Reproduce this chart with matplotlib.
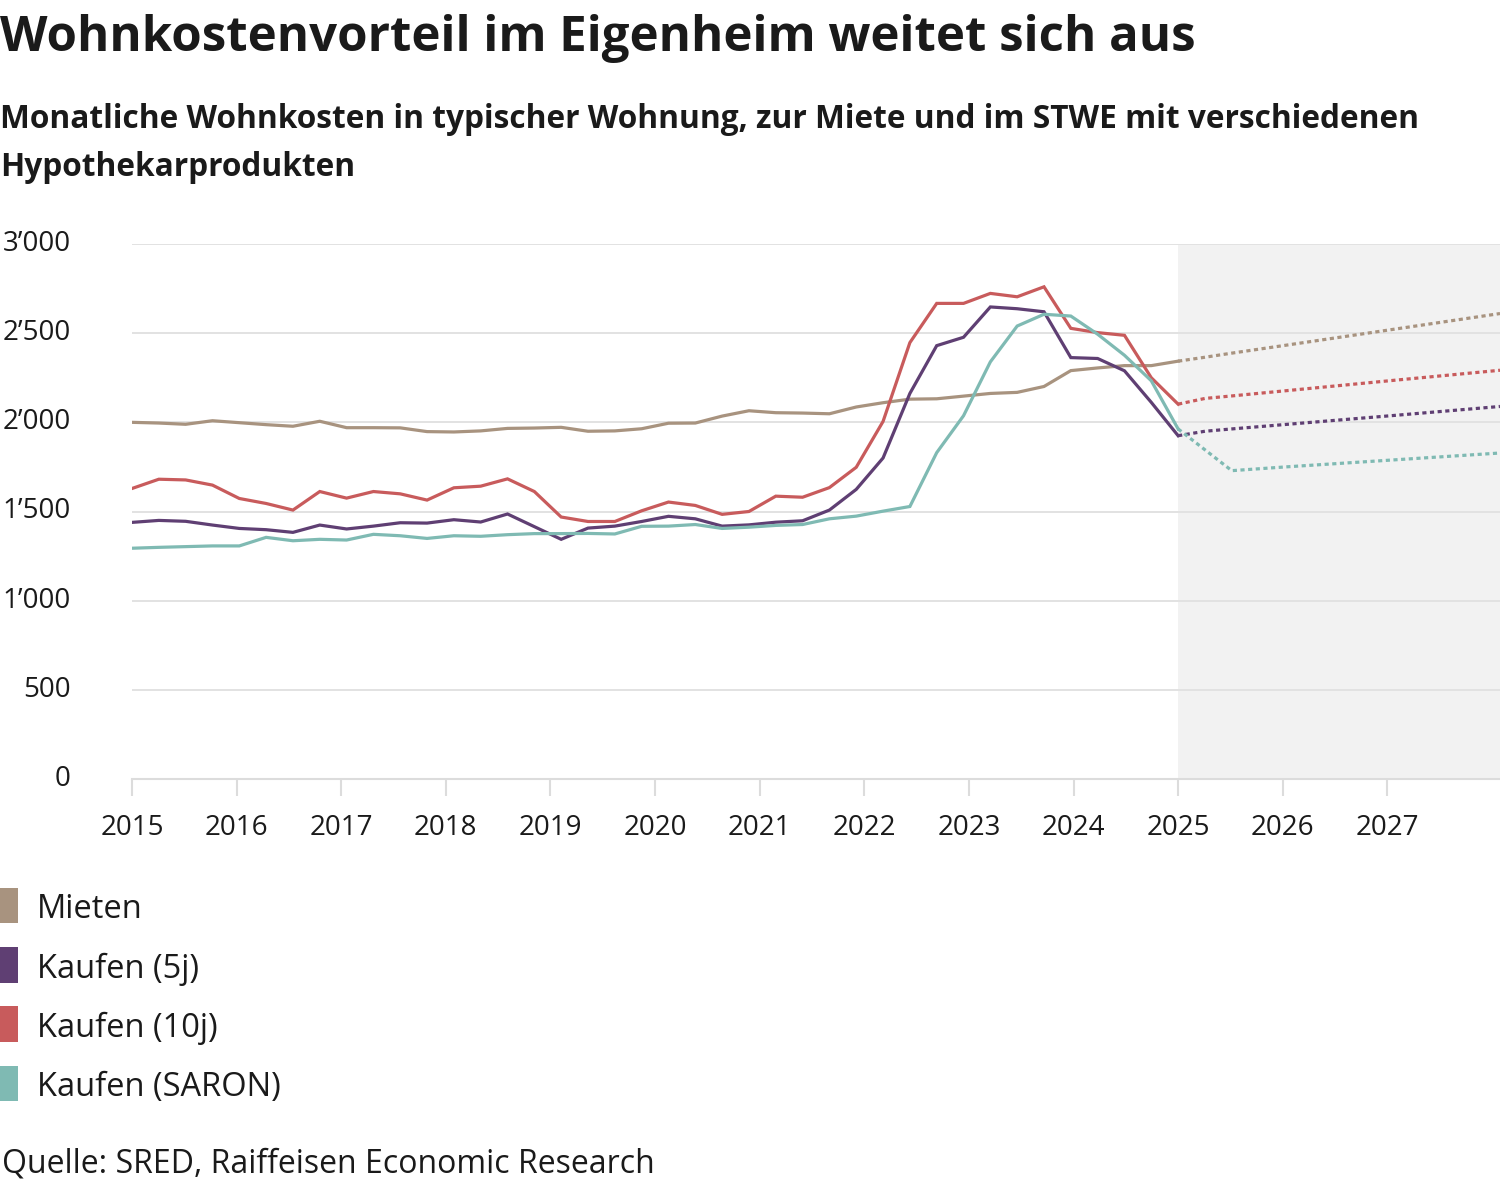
import matplotlib
matplotlib.use("Agg")
import matplotlib.pyplot as plt
import matplotlib.patches as mpatches
import numpy as np

plt.rcParams["font.family"] = ["Open Sans", "DejaVu Sans"]

# ---------------------------------------------------------------------------
# Data (CHF per month), 40 quarterly observations 2015-2025, then forecast
# ---------------------------------------------------------------------------
QUARTERS_PER_AXIS_YEAR = 3.9   # 40 points span 2015..2025 on the chart axis

mieten = [2000, 1996, 1989, 2009, 1998, 1987, 1978, 2006, 1970, 1970,
          1969, 1948, 1946, 1952, 1966, 1968, 1972, 1950, 1952, 1964,
          1995, 1996, 2035, 2065, 2054, 2052, 2048, 2086, 2110, 2130,
          2132, 2147, 2162, 2168, 2201, 2290, 2305, 2318, 2318, 2343]
kaufen_5j = [1439, 1450, 1445, 1424, 1405, 1398, 1383, 1424, 1402, 1418,
             1437, 1435, 1454, 1441, 1486, 1415, 1344, 1407, 1418, 1444,
             1473, 1459, 1418, 1425, 1440, 1448, 1508, 1624, 1800, 2162,
             2430, 2477, 2647, 2637, 2620, 2363, 2358, 2289, 2112, 1925]
kaufen_10j = [1629, 1681, 1677, 1648, 1573, 1545, 1508, 1612, 1575, 1612,
              1599, 1564, 1633, 1642, 1683, 1612, 1469, 1444, 1444, 1504,
              1553, 1534, 1484, 1500, 1586, 1580, 1634, 1748, 2005, 2447,
              2667, 2667, 2723, 2704, 2760, 2527, 2503, 2488, 2250, 2102]
kaufen_saron = [1294, 1299, 1303, 1307, 1307, 1355, 1336, 1344, 1340, 1372,
                1364, 1349, 1364, 1361, 1370, 1376, 1376, 1377, 1374, 1417,
                1418, 1427, 1405, 1412, 1422, 1427, 1459, 1474, 1502, 1528,
                1830, 2037, 2339, 2540, 2606, 2596, 2494, 2376, 2233, 1963]

# forecast (dotted), quarter index counted from 2015Q1
forecast_idx = [39, 40, 41, 43, 47, 51]
mieten_fc = [2343, 2365, 2388, 2432, 2521, 2610]
kaufen_5j_fc = [1925, 1950, 1963, 1988, 2038, 2089]
kaufen_10j_fc = [2102, 2134, 2148, 2177, 2235, 2292]
kaufen_saron_fc = [1963, 1846, 1729, 1750, 1789, 1828]

series_labels = ["Mieten", "Kaufen (5j)", "Kaufen (10j)", "Kaufen (SARON)"]
series_colors = ["#a8937f", "#5f3f73", "#c85b5c", "#7fbab3"]

years = list(range(2015, 2028))
y_ticks = [0, 500, 1000, 1500, 2000, 2500, 3000]
forecast_start = 2025

TEXT = "#1a1a1a"
GRID = "#e2e2e2"
W, H = 1500, 1185


def fx(px):
    return px / W


def fy(py):
    return 1 - py / H


def fmt_chf(v):
    return f"{v:,}".replace(",", "\u2019")


fig = plt.figure(figsize=(W / 100, H / 100), dpi=100)
ax = fig.add_axes([fx(132), fy(779), fx(1500 - 132), (779 - 244) / H])

x_hist = 2015 + np.arange(len(mieten)) / QUARTERS_PER_AXIS_YEAR
x_fc = 2015 + np.array(forecast_idx) / QUARTERS_PER_AXIS_YEAR

hist = [mieten, kaufen_5j, kaufen_10j, kaufen_saron]
fcst = [mieten_fc, kaufen_5j_fc, kaufen_10j_fc, kaufen_saron_fc]

ax.axvspan(forecast_start, x_fc[-1], color="#f2f2f2", zorder=0, lw=0)

for vals, fvals, col in zip(hist, fcst, series_colors):
    ax.plot(x_hist, vals, color=col, lw=2.3, zorder=3,
            solid_joinstyle="miter")
    ax.plot(x_fc, fvals, color=col, lw=2.3, zorder=3,
            linestyle=(0, (1.3, 1.1)), dash_capstyle="butt")

ax.set_xlim(2015, x_fc[-1])
ax.set_ylim(0, 3000)
ax.set_yticks(y_ticks)
ax.set_yticklabels([fmt_chf(v) for v in y_ticks])
ax.set_xticks(years)
ax.set_xticklabels([str(y) for y in years])

for v in y_ticks[1:]:
    ax.axhline(v, color=GRID, lw=1.4, zorder=1)

for s in ["top", "right", "left"]:
    ax.spines[s].set_visible(False)
ax.spines["bottom"].set_color("#dcdcdc")
ax.spines["bottom"].set_linewidth(1.5)
ax.set_facecolor("none")

ax.tick_params(axis="y", length=0, pad=44, labelsize=20, labelcolor=TEXT)
ax.tick_params(axis="x", length=12, width=1.5, color="#dcdcdc", pad=13,
               labelsize=20, labelcolor=TEXT)
for lab in ax.get_yticklabels():
    lab.set_verticalalignment("center")

# titles
fig.text(fx(0), fy(51), "Wohnkostenvorteil im Eigenheim weitet sich aus",
         fontsize=35.4, fontweight="bold", color=TEXT, va="baseline", ha="left")
fig.text(fx(0), fy(128),
         "Monatliche Wohnkosten in typischer Wohnung, zur Miete und im STWE mit verschiedenen",
         fontsize=22.8, fontweight="bold", color=TEXT, va="baseline", ha="left")
fig.text(fx(0), fy(176.5), "Hypothekarprodukten",
         fontsize=22.8, fontweight="bold", color=TEXT, va="baseline", ha="left")

# legend (colour blocks)
for k, (lab, col) in enumerate(zip(series_labels, series_colors)):
    top = 887.7 + k * 59.3
    fig.add_artist(mpatches.Rectangle((fx(0), fy(top + 35.6)), fx(18), 35.6 / H,
                                      transform=fig.transFigure,
                                      facecolor=col, edgecolor="none"))
    fig.text(fx(37), fy(top + 30.6), lab, fontsize=23.5, color=TEXT,
             va="baseline", ha="left")

fig.text(fx(2), fy(1172), "Quelle: SRED, Raiffeisen Economic Research",
         fontsize=23, color=TEXT, va="baseline", ha="left")

fig.savefig("out.png", dpi=100, facecolor="white")
